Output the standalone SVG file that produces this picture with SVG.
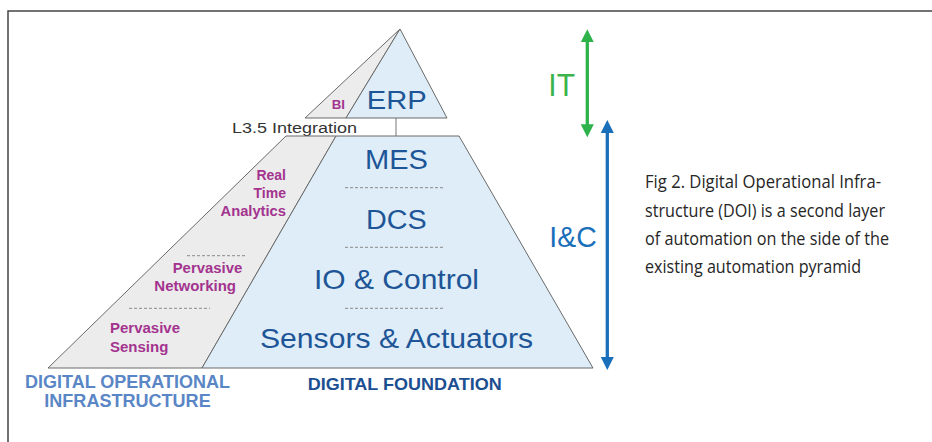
<svg xmlns="http://www.w3.org/2000/svg" width="932" height="442" viewBox="0 0 932 442">
<style>
.lbl{font-family:"Liberation Sans",Arial,sans-serif;fill:#1d5597}
.pur{font-family:"Liberation Sans",Arial,sans-serif;font-weight:bold;font-size:14px;fill:#a3338f}
.gry{fill:#ececec;stroke:#6a6a6a;stroke-width:1}
.blu{fill:#deedf7;stroke:#6a6a6a;stroke-width:1}
.dash{stroke:#8a8a8a;stroke-width:1;stroke-dasharray:3,2;fill:none}
.cap{font-family:"Liberation Sans Narrow","Open Sans",sans-serif;font-size:17.5px;fill:#262626}
</style>
<defs>
<marker id="ag" viewBox="0 0 10 10" markerUnits="userSpaceOnUse" markerWidth="13" markerHeight="13" refX="3.8" refY="5" orient="auto-start-reverse"><path d="M0,0 L10,5 L0,10 z" fill="#2db34a"/></marker>
<marker id="ab" viewBox="0 0 10 10" markerUnits="userSpaceOnUse" markerWidth="13" markerHeight="13" refX="3.8" refY="5" orient="auto-start-reverse"><path d="M0,0 L10,5 L0,10 z" fill="#1a6fba"/></marker>
</defs>
<rect width="932" height="442" fill="#fff"/>
<path d="M8,442 V11 H932" fill="none" stroke="#444" stroke-width="1.5"/>

<g id="connectors">
<line x1="396" y1="118" x2="396" y2="136" stroke="#777" stroke-width="1"/>
<line x1="587.3" y1="37.3" x2="587.3" y2="129.3" stroke="#2db34a" stroke-width="3.3" marker-start="url(#ag)" marker-end="url(#ag)"/>
<line x1="607.3" y1="128" x2="607.3" y2="362" stroke="#1a6fba" stroke-width="3.3" marker-start="url(#ab)" marker-end="url(#ab)"/>
</g>

<g id="bi">
<polygon class="gry" points="400,29 305,118 346,118"/>
<text x="331.7" y="109" font-family="Liberation Sans,Arial,sans-serif" font-weight="bold" font-size="13" fill="#a3338f" textLength="13.3" lengthAdjust="spacingAndGlyphs">BI</text>
</g>
<g id="erp">
<polygon class="blu" points="400,29 346,118 447,118"/>
<text class="lbl" x="366.7" y="109.3" font-size="26" textLength="60" lengthAdjust="spacingAndGlyphs">ERP</text>
</g>
<g id="integration">
<text x="232" y="133" font-family="Liberation Sans,Arial,sans-serif" font-size="15.4" fill="#333" textLength="125" lengthAdjust="spacingAndGlyphs">L3.5 Integration</text>
</g>

<g id="doi">
<polygon class="gry" points="286,136 336,136 202,368 48,368"/>
<text class="pur" x="286" y="180" text-anchor="end">Real</text>
<text class="pur" x="286" y="197.7" text-anchor="end">Time</text>
<text class="pur" x="220.5" y="216" textLength="65.5" lengthAdjust="spacingAndGlyphs">Analytics</text>
<line class="dash" x1="187" y1="255.7" x2="247" y2="255.7"/>
<text class="pur" x="172.7" y="272.7" textLength="69.6" lengthAdjust="spacingAndGlyphs">Pervasive</text>
<text class="pur" x="154.3" y="291" textLength="81.7" lengthAdjust="spacingAndGlyphs">Networking</text>
<line class="dash" x1="129" y1="308.3" x2="210" y2="308.3"/>
<text class="pur" x="110" y="333.3" textLength="70" lengthAdjust="spacingAndGlyphs">Pervasive</text>
<text class="pur" x="110" y="351.7" textLength="58.3" lengthAdjust="spacingAndGlyphs">Sensing</text>
</g>

<g id="foundation">
<polygon class="blu" points="336,136 459,136 593,368 202,368"/>
<text class="lbl" x="365" y="169.3" font-size="27" textLength="63" lengthAdjust="spacingAndGlyphs">MES</text>
<line class="dash" x1="345" y1="187.7" x2="443" y2="187.7"/>
<text class="lbl" x="366" y="229" font-size="27" textLength="60.7" lengthAdjust="spacingAndGlyphs">DCS</text>
<line class="dash" x1="345" y1="247.3" x2="443" y2="247.3"/>
<text class="lbl" x="314" y="288.5" font-size="28" textLength="165" lengthAdjust="spacingAndGlyphs">IO &amp; Control</text>
<line class="dash" x1="345" y1="308.3" x2="443" y2="308.3"/>
<text class="lbl" x="260" y="348.3" font-size="28" textLength="273" lengthAdjust="spacingAndGlyphs">Sensors &amp; Actuators</text>
</g>

<g id="labels">
<text x="25" y="387.7" font-family="Liberation Sans,Arial,sans-serif" font-weight="bold" font-size="17.5" fill="#5a86c6" textLength="205" lengthAdjust="spacingAndGlyphs">DIGITAL OPERATIONAL</text>
<text x="44.3" y="406.7" font-family="Liberation Sans,Arial,sans-serif" font-weight="bold" font-size="17.5" fill="#5a86c6" textLength="166.4" lengthAdjust="spacingAndGlyphs">INFRASTRUCTURE</text>
<text x="307.7" y="390" font-family="Liberation Sans,Arial,sans-serif" font-weight="bold" font-size="17" fill="#1c4f91" textLength="194" lengthAdjust="spacingAndGlyphs">DIGITAL FOUNDATION</text>
<text x="548.3" y="96" font-family="Liberation Sans,Arial,sans-serif" font-size="31" fill="#3cb44b" textLength="26.7" lengthAdjust="spacingAndGlyphs">IT</text>
<text x="549.3" y="246.7" font-family="Liberation Sans,Arial,sans-serif" font-size="30" fill="#1a6fba" textLength="47.4" lengthAdjust="spacingAndGlyphs">I&amp;C</text>
</g>

<g id="caption">
<text class="cap" x="645" y="188.3" textLength="236" lengthAdjust="spacingAndGlyphs">Fig 2. Digital Operational Infra-</text>
<text class="cap" x="645" y="216.5" textLength="240" lengthAdjust="spacingAndGlyphs">structure (DOI) is a second layer</text>
<text class="cap" x="645" y="244.7" textLength="244" lengthAdjust="spacingAndGlyphs">of automation on the side of the</text>
<text class="cap" x="645" y="272.7" textLength="216" lengthAdjust="spacingAndGlyphs">existing automation pyramid</text>
</g>
</svg>
